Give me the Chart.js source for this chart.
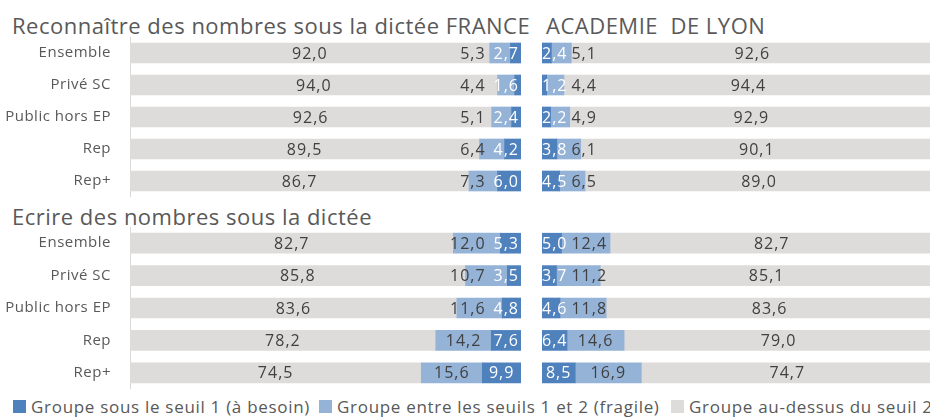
<!DOCTYPE html>
<html>
<head>
<meta charset="utf-8">
<script src="https://cdn.jsdelivr.net/npm/chart.js@4"></script>
<style>
body { margin: 0; width: 930px; height: 419px; overflow: hidden; background: #fff; position: relative; font-family: "Open Sans", sans-serif; color: #595959; }
canvas { position: absolute; }
.title { position: absolute; font-size: 22px; line-height: 1; white-space: pre; letter-spacing: 0.5px; }
.leg { position: absolute; top: 398px; font-size: 17px; line-height: 1; white-space: pre; letter-spacing: 0.7px; }
.sw { position: absolute; top: 400px; width: 13px; height: 13px; }
</style>
</head>
<body>
<div class="title" style="left:12px;top:14px">Reconnaître des nombres sous la dictée FRANCE</div>
<div class="title" style="left:546px;top:14px">ACADEMIE  DE LYON</div>
<div class="title" style="left:12px;top:205px">Ecrire des nombres sous la dictée</div>

<canvas id="c1" width="521" height="160" style="left:0;top:37px"></canvas>
<canvas id="c2" width="391" height="160" style="left:542px;top:37px"></canvas>
<canvas id="c3" width="521" height="162" style="left:0;top:227px"></canvas>
<canvas id="c4" width="391" height="162" style="left:542px;top:227px"></canvas>

<div class="sw" style="left:13px;background:#4f81bd"></div>
<div class="leg" style="left:31px">Groupe sous le seuil 1 (à besoin)</div>
<div class="sw" style="left:319px;background:#95b3d7"></div>
<div class="leg" style="left:337px">Groupe entre les seuils 1 et 2 (fragile)</div>
<div class="sw" style="left:671px;background:#dedcdb"></div>
<div class="leg" style="left:689px">Groupe au-dessus du seuil 2</div>

<script>
// categories
const groups = ['Ensemble', 'Privé SC', 'Public hors EP', 'Rep', 'Rep+']

// Reconnaître des nombres - France
const recoFrBesoin = [2.7, 1.6, 2.4, 4.2, 6.0]
const recoFrFragile = [5.3, 4.4, 5.1, 6.4, 7.3]
const recoFrAuDessus = [92.0, 94.0, 92.6, 89.5, 86.7]
// Reconnaître des nombres - Lyon
const recoLyBesoin = [2.4, 1.2, 2.2, 3.8, 4.5]
const recoLyFragile = [5.1, 4.4, 4.9, 6.1, 6.5]
const recoLyAuDessus = [92.6, 94.4, 92.9, 90.1, 89.0]

// Ecrire des nombres - France
const ecrFrBesoin = [5.3, 3.5, 4.8, 7.6, 9.9]
const ecrFrFragile = [12.0, 10.7, 11.6, 14.2, 15.6]
const ecrFrAuDessus = [82.7, 85.8, 83.6, 78.2, 74.5]
// Ecrire des nombres - Lyon
const ecrLyBesoin = [5.0, 3.7, 4.6, 6.4, 8.5]
const ecrLyFragile = [12.4, 11.2, 11.8, 14.6, 16.9]
const ecrLyAuDessus = [82.7, 85.1, 83.6, 79.0, 74.7]

const seriesNames = ['Groupe sous le seuil 1 (à besoin)', 'Groupe entre les seuils 1 et 2 (fragile)', 'Groupe au-dessus du seuil 2']
const colors = ['#4f81bd', '#95b3d7', '#dedcdb']

Chart.defaults.font.family = '"Open Sans", sans-serif'

// value labels, pushed apart when the segment is too narrow
const segLabels = {
    id: 'segLabels',
    beforeDraw(chart) {
        chart.ctx.letterSpacing = '0.5px'
    },
    afterDatasetsDraw(chart, args, opts) {
        const ctx = chart.ctx
        const area = chart.chartArea
        ctx.save()
        ctx.font = '16px "Open Sans"'
        ctx.letterSpacing = '1px'
        ctx.textBaseline = 'middle'
        ctx.textAlign = 'left'
        for (let i = 0; i < chart.data.labels.length; i++) {
            let prev = null
            for (let d = 0; d < 3; d++) {
                const bar = chart.getDatasetMeta(d).data[i]
                const v = chart.data.datasets[d].data[i]
                const txt = v.toFixed(1).replace('.', ',')
                const w = ctx.measureText(txt).width
                const lo = Math.min(bar.x, bar.base)
                const hi = Math.max(bar.x, bar.base)
                let x = (lo + hi) / 2 - w / 2
                if (d < 2) {
                    if (opts.side == 'left') {
                        const lim = d == 0 ? area.right - 2 : prev - 8
                        if (x + w > lim) x = lim - w
                        prev = x
                    } else {
                        const lim = d == 0 ? area.left : prev + 4
                        if (x < lim) x = lim
                        prev = x + w
                    }
                }
                ctx.fillStyle = d == 0 ? '#ffffff' : '#404040'
                ctx.fillText(txt, x, bar.y + 1)
            }
        }
        ctx.restore()
    }
}

function makeChart(id, side, besoin, fragile, auDessus)
{
    const values = [besoin, fragile, auDessus]
    const left = side == 'left'
    const yAxis = {
        stacked: true,
        display: left,
        grid: { display: false, drawTicks: false },
        border: { display: true, color: '#d9d9d9', width: 1 },
        ticks: { color: '#595959', font: { size: 15 }, padding: 19 }
    }
    if (left) {
        // fixed label column, no extra room above / below the bars
        yAxis.afterFit = (scale) => {
            scale.width = 130
            scale.paddingTop = 0
            scale.paddingBottom = 0
        }
    }
    return new Chart(document.getElementById(id), {
        type: 'bar',
        data: {
            labels: groups,
            datasets: values.map((vals, k) => ({
                label: seriesNames[k],
                data: vals,
                backgroundColor: colors[k],
                borderWidth: 0,
                barThickness: 20
            }))
        },
        options: {
            indexAxis: 'y',
            responsive: false,
            animation: false,
            layout: { padding: 0 },
            plugins: {
                legend: { display: false },
                tooltip: { enabled: false },
                segLabels: { side: side }
            },
            scales: {
                x: { stacked: true, min: 0, max: 100, reverse: left, display: false },
                y: yAxis
            }
        },
        plugins: [segLabels]
    })
}

makeChart('c1', 'left', recoFrBesoin, recoFrFragile, recoFrAuDessus)
makeChart('c2', 'right', recoLyBesoin, recoLyFragile, recoLyAuDessus)
makeChart('c3', 'left', ecrFrBesoin, ecrFrFragile, ecrFrAuDessus)
makeChart('c4', 'right', ecrLyBesoin, ecrLyFragile, ecrLyAuDessus)
</script>
</body>
</html>
